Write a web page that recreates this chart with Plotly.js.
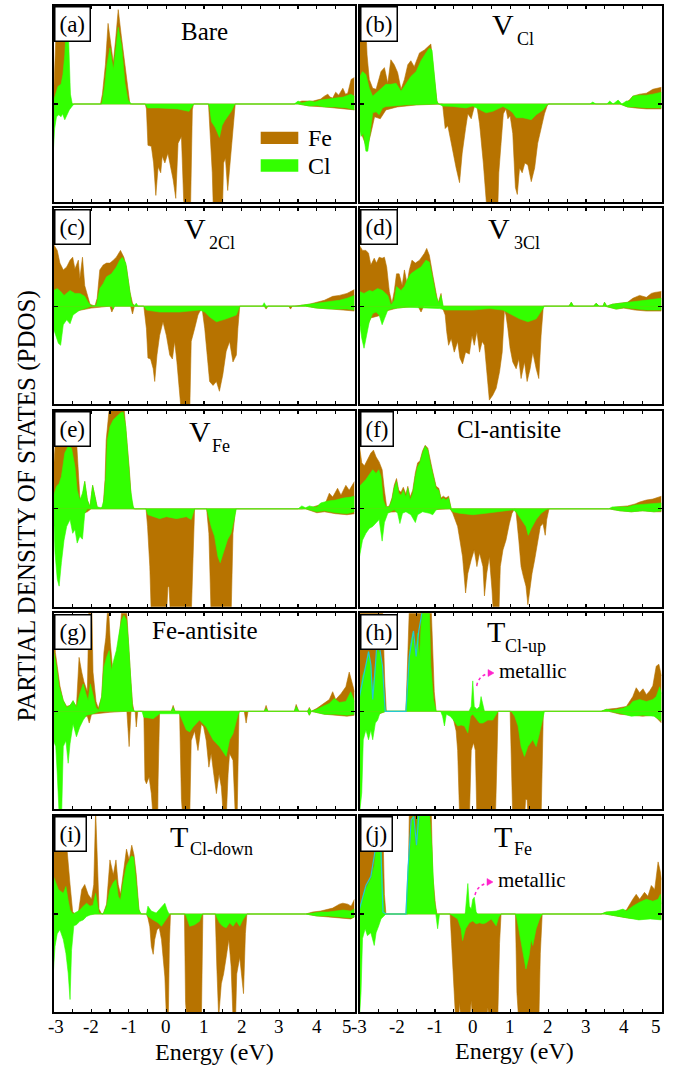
<!DOCTYPE html>
<html><head><meta charset="utf-8">
<script src="https://cdn.plot.ly/plotly-3.0.1.min.js"></script>
<style>html,body{margin:0;padding:0;background:#fff}#chart{width:678px;height:1066px}</style>
</head><body><div id="chart"></div>
<script>
// ---- data: [energy (eV), PDOS] pairs; spin-up positive, spin-down negative ----
const A_feUp=[[-3,0.5],[-2.95,6],[-2.9,10.5],[-2.8,10.5],[-2.7,9],[-2.64,7],[-2.6,4],[-2.56,0.5],[-2.52,0],[-1.75,0],[-1.7,1],[-1.62,4],[-1.55,8.2],[-1.48,6],[-1.41,4.2],[-1.35,6.5],[-1.28,9.6],[-1.2,7],[-1.1,3.8],[-1.03,1.5],[-0.97,0],[3.4,0],[3.6,0.3],[3.9,0.3],[4.1,0.5],[4.2,0.8],[4.29,1.0],[4.35,0.7],[4.42,0.6],[4.5,1.2],[4.58,0.9],[4.69,1.6],[4.76,1.0],[4.82,1.1],[4.91,2.5],[5,2.7]];
const A_clUp=[[-3,0.3],[-2.95,1.0],[-2.88,1.8],[-2.8,2.0],[-2.75,3.0],[-2.7,5],[-2.66,8],[-2.61,8],[-2.58,4],[-2.55,1],[-2.5,0],[-1.72,0],[-1.64,1.8],[-1.58,4],[-1.5,5.7],[-1.41,3.5],[-1.33,6],[-1.28,7.8],[-1.19,5.9],[-1.1,2.1],[-1.02,0.4],[-0.93,0],[3.4,0],[3.5,0.3],[3.6,0.1],[3.8,0.3],[3.95,0.2],[4.1,0.4],[4.3,0.5],[4.5,0.6],[4.7,0.7],[4.9,1.0],[5,0.8]];
const A_feDn=[[-3,-1],[-2.9,-0.6],[-2.6,-0.3],[-2.5,0],[-0.56,0],[-0.53,-0.5],[-0.49,-4.2],[-0.40,-4.3],[-0.34,-6.0],[-0.28,-9.3],[-0.22,-6.4],[-0.15,-7.0],[-0.11,-5.3],[-0.04,-6.0],[0.04,-5.0],[0.11,-6.3],[0.18,-7.7],[0.25,-9.6],[0.31,-4.0],[0.40,-3.3],[0.46,-9.8],[0.51,-11],[0.64,-11],[0.69,-0.6],[0.72,0],[1.12,0],[1.17,-3],[1.22,-7],[1.25,-11],[1.49,-11],[1.52,-6],[1.57,-5.5],[1.63,-8.8],[1.68,-6.5],[1.74,-4],[1.79,-1.3],[1.83,0],[3.5,0],[3.8,-0.2],[4.2,-0.3],[4.5,-0.4],[4.8,-0.5],[5,-0.6]];
const A_clDn=[[-3,-4.5],[-2.97,-2.5],[-2.92,-1.3],[-2.86,-1.1],[-2.8,-1.3],[-2.76,-1.0],[-2.7,-1.6],[-2.65,-1.1],[-2.58,-0.6],[-2.5,-0.2],[-2.45,0],[-0.56,0],[-0.5,-0.4],[-0.2,-0.4],[0.3,-0.5],[0.6,-0.75],[0.7,-0.2],[0.73,0],[1.12,0],[1.15,-0.4],[1.2,-1.8],[1.3,-2.4],[1.41,-3.4],[1.48,-2.2],[1.55,-1.7],[1.64,-1.2],[1.73,-0.7],[1.82,0],[3.5,0],[3.8,-0.2],[4.0,-0.15],[4.2,-0.3],[4.5,-0.3],[4.8,-0.4],[5,-0.6]];

const B_feUp=[[-3,10.5],[-2.86,10.5],[-2.8,5],[-2.74,2.5],[-2.65,1.6],[-2.56,1.5],[-2.43,3.3],[-2.34,3.7],[-2.25,2.1],[-2.17,4.5],[-2.08,4.0],[-1.99,3.2],[-1.9,1.5],[-1.81,2.5],[-1.72,4.0],[-1.64,4.4],[-1.55,3.8],[-1.41,5.2],[-1.28,5.5],[-1.17,5.9],[-1.11,6.1],[-1.02,2.8],[-0.95,0.3],[-0.91,0],[4.0,0],[4.15,0.4],[4.24,0.8],[4.42,1.0],[4.6,1.1],[4.77,1.5],[4.9,1.6],[5,1.7]];
const B_clUp=[[-3,2.7],[-2.92,3.3],[-2.83,3.0],[-2.74,1.6],[-2.65,0.8],[-2.56,1.1],[-2.43,1.5],[-2.3,2.0],[-2.17,2.0],[-2.03,2.1],[-1.9,1.3],[-1.77,2.1],[-1.64,2.8],[-1.5,3.3],[-1.37,4.4],[-1.24,5.2],[-1.15,5.7],[-1.08,5.5],[-1.02,2.8],[-0.95,0.3],[-0.91,0],[3.1,0],[3.18,0.2],[3.26,0],[3.55,0],[3.63,0.3],[3.72,0],[3.85,0.4],[3.95,0],[4.07,0.3],[4.15,0.3],[4.24,0.8],[4.42,0.9],[4.6,0.9],[4.77,1.0],[5,1.2]];
const B_feDn=[[-3,-2.5],[-2.9,-3.5],[-2.8,-4.5],[-2.7,-3],[-2.6,-1.3],[-2.45,-1.5],[-2.3,-0.6],[-2.0,-0.3],[-1.5,-0.1],[-0.8,0],[-0.73,-2.5],[-0.66,-2.2],[-0.57,-4],[-0.44,-6.5],[-0.35,-8],[-0.28,-5],[-0.19,-2.5],[-0.13,-1],[-0.04,-1.5],[0.04,-0.3],[0.11,-0.2],[0.18,-2],[0.28,-6],[0.35,-10],[0.38,-11],[0.66,-11],[0.69,-7],[0.75,-4],[0.81,-1],[0.88,-0.5],[0.93,-1.5],[0.99,-1.2],[1.06,-3],[1.13,-8.5],[1.18,-9.2],[1.24,-6.5],[1.31,-7],[1.38,-6],[1.46,-6.2],[1.55,-7.9],[1.64,-6.5],[1.72,-4],[1.81,-2.5],[1.9,-1.0],[1.97,-0.2],[2.01,0],[3.9,0],[4.1,-0.3],[4.3,-0.4],[4.6,-0.5],[5,-0.5]];
const B_clDn=[[-3,-2.3],[-2.96,-3.3],[-2.9,-3.0],[-2.83,-4.8],[-2.78,-4.8],[-2.72,-3.0],[-2.65,-0.9],[-2.56,-0.8],[-2.48,-1.1],[-2.39,-0.4],[-2.3,-0.25],[-2.1,-0.2],[-1.8,-0.1],[-0.9,0],[-0.8,-0.2],[-0.53,-0.25],[-0.18,-0.4],[0,-0.2],[0.18,-0.6],[0.35,-0.9],[0.53,-0.75],[0.8,-0.25],[0.97,-0.6],[1.06,-0.9],[1.15,-1.4],[1.33,-1.4],[1.55,-1.6],[1.68,-1.1],[1.86,-0.6],[1.99,0],[3.9,0],[4.1,-0.3],[4.3,-0.3],[4.6,-0.4],[5,-0.4]];

const C_feUp=[[-3,6.5],[-2.98,6.2],[-2.9,5.7],[-2.83,4.4],[-2.74,3.7],[-2.65,4.0],[-2.56,4.7],[-2.49,5.0],[-2.43,3.8],[-2.34,4.7],[-2.30,2.8],[-2.23,5.0],[-2.17,2.1],[-2.10,1.1],[-2.03,0.2],[-1.9,0],[-1.84,0.8],[-1.77,3.7],[-1.68,4.2],[-1.59,4.4],[-1.5,4.4],[-1.41,4.7],[-1.33,5.0],[-1.22,5.7],[-1.13,5.0],[-1.06,4.0],[-0.97,1.5],[-0.9,0.3],[-0.84,0],[3.4,0],[3.8,0.2],[4.0,0.4],[4.2,0.6],[4.42,1.0],[4.6,1.1],[4.8,1.3],[5,1.7]];
const C_clUp=[[-3,1.6],[-2.9,1.8],[-2.81,1.5],[-2.72,1.1],[-2.56,1.6],[-2.43,1.3],[-2.3,1.3],[-2.17,1.0],[-2.08,0.4],[-1.99,0],[-1.86,0.1],[-1.77,1.8],[-1.68,2.3],[-1.59,3.0],[-1.46,3.3],[-1.33,4.0],[-1.24,4.7],[-1.17,5.0],[-1.08,4.4],[-0.99,2.1],[-0.93,0.4],[-0.87,0],[-0.8,0.3],[-0.75,0],[2.55,0],[2.6,0.35],[2.65,0],[3.5,0],[3.6,0.1],[4.0,0.3],[4.37,0.5],[4.6,0.6],[4.8,0.8],[5,1.1]];
const C_feDn=[[-3,-1.5],[-2.8,-2.0],[-2.6,-1.0],[-2.4,-0.5],[-2.0,-0.2],[-1.5,0],[-1.45,-0.6],[-1.38,0],[-0.95,0],[-0.9,-0.8],[-0.85,0],[-0.6,0],[-0.53,-2.3],[-0.49,-5.3],[-0.42,-5.4],[-0.35,-6.4],[-0.31,-7.7],[-0.25,-5.0],[-0.18,-3.0],[-0.09,-1.6],[0,-3.0],[0.09,-5.0],[0.16,-5.4],[0.22,-3.6],[0.28,-5.7],[0.35,-9.1],[0.4,-11],[0.62,-11],[0.66,-3.6],[0.75,-2.3],[0.84,-0.9],[0.88,-0.6],[0.95,-0.25],[1.02,-2.3],[1.08,-5.0],[1.15,-7.7],[1.24,-8.1],[1.33,-7.7],[1.41,-8.7],[1.50,-7.0],[1.59,-4.6],[1.68,-3.6],[1.77,-5.7],[1.86,-5.0],[1.90,-2.3],[1.95,0],[2.6,0],[2.65,-0.3],[2.7,0],[3.25,0],[3.3,-0.3],[3.35,0],[3.7,0],[4,-0.2],[4.4,-0.3],[4.8,-0.4],[5,-0.5]];
const C_clDn=[[-3,-2.3],[-2.94,-3.0],[-2.87,-3.8],[-2.81,-4.0],[-2.74,-1.9],[-2.65,-1.4],[-2.56,-1.8],[-2.48,-0.9],[-2.3,-0.4],[-2.12,-0.2],[-2.0,0],[-1.45,0],[-1.41,-0.3],[-1.38,0],[-0.6,0],[-0.53,-0.4],[-0.18,-0.6],[0.35,-0.6],[0.88,-0.4],[1.02,-0.6],[1.15,-1.1],[1.33,-1.6],[1.59,-1.3],[1.86,-0.9],[1.95,0],[2.6,0],[2.65,-0.2],[2.7,0],[3.7,0],[4,-0.2],[4.4,-0.3],[4.8,-0.3],[5,-0.4]];

const D_feUp=[[-3,6.2],[-2.92,5.7],[-2.83,5.7],[-2.76,5.4],[-2.7,4.2],[-2.61,4.9],[-2.55,4.4],[-2.48,5.0],[-2.4,4.9],[-2.34,5.0],[-2.28,4.0],[-2.21,1.5],[-2.14,0.3],[-2.08,1.5],[-2.02,3.3],[-1.95,3.3],[-1.87,2.1],[-1.81,3.7],[-1.74,2.3],[-1.68,3.7],[-1.61,4.7],[-1.52,4.4],[-1.41,4.7],[-1.28,5.4],[-1.22,5.9],[-1.15,5.2],[-1.06,3.2],[-0.97,1.1],[-0.92,0.3],[-0.84,1.3],[-0.8,0],[2.55,0],[2.61,0.4],[2.67,0],[3.2,0],[3.27,0.3],[3.35,0],[3.45,0],[3.49,0.4],[3.55,0],[3.7,0.2],[3.9,0.3],[4.1,0.4],[4.24,0.8],[4.42,1.1],[4.6,0.9],[4.73,1.3],[4.82,1.4],[5,1.5]];
const D_clUp=[[-3,1.5],[-2.88,1.3],[-2.74,1.6],[-2.65,1.5],[-2.52,1.8],[-2.39,1.6],[-2.25,1.1],[-2.17,0.1],[-2.08,0.6],[-2.02,2.0],[-1.9,1.6],[-1.81,2.0],[-1.72,2.8],[-1.64,3.3],[-1.5,3.7],[-1.37,4.0],[-1.24,4.7],[-1.15,4.5],[-1.06,2.8],[-0.97,1.0],[-0.9,0.3],[-0.84,1.1],[-0.78,0],[2.55,0],[2.61,0.4],[2.67,0],[3.2,0],[3.27,0.3],[3.35,0],[3.45,0],[3.49,0.4],[3.55,0],[3.7,0.2],[3.9,0.3],[4.24,0.4],[4.6,0.6],[5,0.8]];
const D_feDn=[[-3,-1.5],[-2.85,-2.5],[-2.7,-1.2],[-2.5,-1.0],[-2.3,-0.5],[-2.0,-0.2],[-1.45,0],[-1.37,-0.6],[-1.3,0],[-0.84,0],[-0.78,-0.4],[-0.73,-0.9],[-0.69,-2.6],[-0.64,-4.0],[-0.57,-3.3],[-0.49,-4.7],[-0.40,-3.6],[-0.34,-5.3],[-0.27,-5.9],[-0.19,-4.7],[-0.09,-4.9],[-0.02,-3.0],[0.04,-4.0],[0.11,-2.6],[0.18,-4.7],[0.25,-3.6],[0.31,-4.0],[0.37,-6.4],[0.44,-9.6],[0.53,-9.1],[0.62,-8.4],[0.71,-6.7],[0.78,-4.7],[0.84,-0.4],[0.88,-0.9],[0.93,-2.3],[0.99,-4.3],[1.06,-5.7],[1.15,-6.4],[1.22,-5.4],[1.28,-7.4],[1.37,-5.7],[1.44,-7.7],[1.52,-6.4],[1.59,-4.7],[1.68,-6.4],[1.75,-7.4],[1.81,-3.0],[1.87,0],[3.5,0],[3.8,-0.3],[4.0,-0.2],[4.3,-0.4],[4.6,-0.5],[5,-0.5]];
const D_clDn=[[-3,-1.6],[-2.94,-3.3],[-2.88,-4.3],[-2.81,-3.0],[-2.74,-1.6],[-2.65,-0.75],[-2.56,-0.6],[-2.48,-0.9],[-2.4,-1.9],[-2.34,-1.3],[-2.25,-0.4],[-2.12,-0.25],[-1.77,-0.1],[-0.88,-0.25],[-0.71,-0.4],[0,-0.4],[0.44,-0.25],[0.8,-0.4],[0.97,-0.75],[1.24,-1.3],[1.46,-1.6],[1.68,-1.3],[1.86,-0.25],[1.9,0],[3.5,0],[3.8,-0.3],[4.0,-0.15],[4.3,-0.3],[4.6,-0.4],[5,-0.4]];

const E_feUp=[[-3,4],[-2.92,9],[-2.88,11],[-2.45,11],[-2.39,7],[-2.34,3],[-2.3,1.2],[-2.25,0.6],[-2.17,2.8],[-2.1,0.9],[-2.03,0.2],[-1.96,2.4],[-1.9,1.1],[-1.84,0.2],[-1.75,0],[-1.68,0.3],[-1.63,3.0],[-1.6,7.0],[-1.53,9.8],[-1.47,11],[-1.14,11],[-1.06,7.7],[-0.99,4.3],[-0.93,0.9],[-0.87,0],[3.6,0],[3.9,0.2],[4.15,0.5],[4.24,0.7],[4.33,1.6],[4.42,1.2],[4.55,2.1],[4.64,1.4],[4.77,2.4],[4.86,1.9],[5,2.8]];
const E_clUp=[[-3,1.3],[-2.92,2.3],[-2.85,2.6],[-2.79,3.3],[-2.7,5.7],[-2.61,6.4],[-2.52,6.2],[-2.43,4.3],[-2.37,1.9],[-2.30,0.9],[-2.23,1.6],[-2.17,2.8],[-2.10,0.9],[-2.03,0.2],[-1.96,2.4],[-1.90,1.1],[-1.84,0.2],[-1.72,0.1],[-1.66,0.9],[-1.61,3.3],[-1.57,7.0],[-1.50,8.4],[-1.41,9.1],[-1.33,9.4],[-1.22,9.8],[-1.15,9.9],[-1.08,8.4],[-1.02,5.3],[-0.95,1.9],[-0.88,0.2],[-0.84,0],[3.5,0],[3.6,0.3],[3.7,0.1],[3.8,0.3],[3.9,0.2],[4.0,0.2],[4.1,0.6],[4.3,0.8],[4.5,0.9],[4.7,1.1],[4.9,1.2],[5,1.3]];
const E_feDn=[[-3,-0.5],[-2.8,-0.8],[-2.6,-0.5],[-2.3,-0.6],[-2.1,-0.3],[-2.0,0],[-0.54,0],[-0.5,-1.8],[-0.44,-5.9],[-0.40,-11],[0.0,-11],[0.04,-8],[0.07,-7.9],[0.11,-11],[0.66,-11],[0.71,-5],[0.75,0],[1.07,0],[1.13,-2.5],[1.19,-11],[1.72,-11],[1.77,-2.5],[1.84,0],[3.7,0],[4.0,-0.4],[4.2,-0.3],[4.5,-0.5],[4.8,-0.6],[5,-0.5]];
const E_clDn=[[-3,-0.2],[-2.96,-4.5],[-2.9,-7.2],[-2.85,-7.9],[-2.79,-5.5],[-2.72,-3.2],[-2.65,-1.8],[-2.56,-1.1],[-2.49,-2.5],[-2.43,-2.1],[-2.37,-3.5],[-2.30,-2.8],[-2.23,-3.1],[-2.17,-0.5],[-2.10,0],[-0.54,0],[-0.49,-0.6],[-0.35,-0.8],[-0.18,-1.0],[0,-0.8],[0.27,-1.0],[0.53,-0.8],[0.66,-1.1],[0.75,0],[1.07,0],[1.1,-0.4],[1.19,-1.8],[1.28,-2.8],[1.37,-4.9],[1.43,-5.5],[1.52,-4.5],[1.63,-3.1],[1.72,-2.5],[1.81,-0.8],[1.86,0],[3.7,0],[4.0,-0.3],[4.2,-0.2],[4.5,-0.4],[4.8,-0.5],[5,-0.3]];

const F_feUp=[[-3,6.4],[-2.94,4.7],[-2.87,4.4],[-2.79,5.0],[-2.7,5.7],[-2.63,6.0],[-2.56,5.3],[-2.48,4.8],[-2.40,4.0],[-2.34,1.9],[-2.28,0.2],[-2.21,0.3],[-2.14,1.1],[-2.08,2.4],[-2.02,3.1],[-1.96,1.9],[-1.9,1.7],[-1.84,2.2],[-1.77,1.5],[-1.72,2.3],[-1.66,1.2],[-1.59,1.9],[-1.52,3.7],[-1.46,4.7],[-1.40,4.9],[-1.33,5.9],[-1.26,6.5],[-1.19,6.2],[-1.13,4.9],[-1.06,3.8],[-0.97,2.3],[-0.90,2.1],[-0.84,1.1],[-0.78,1.3],[-0.71,1.1],[-0.64,1.3],[-0.57,0],[3.6,0],[3.8,0.2],[4.1,0.3],[4.3,0.5],[4.42,0.7],[4.6,0.9],[4.77,1.0],[5,1.3]];
const F_clUp=[[-3,2.3],[-2.92,2.6],[-2.83,3.0],[-2.74,3.5],[-2.65,4.0],[-2.56,3.6],[-2.49,4.0],[-2.43,3.3],[-2.37,0.9],[-2.30,0.2],[-2.21,0.2],[-2.14,0.9],[-2.08,2.1],[-2.02,2.8],[-1.96,1.6],[-1.90,1.4],[-1.84,1.9],[-1.77,1.2],[-1.72,2.1],[-1.66,0.9],[-1.59,1.6],[-1.52,3.3],[-1.46,4.3],[-1.40,4.7],[-1.33,5.7],[-1.26,6.4],[-1.19,6.0],[-1.13,4.7],[-1.06,3.6],[-0.97,2.1],[-0.90,1.9],[-0.84,0.9],[-0.78,1.1],[-0.71,0.9],[-0.64,1.1],[-0.57,0],[3.6,0],[3.7,0.2],[3.9,0.2],[4.1,0.2],[4.3,0.4],[4.6,0.5],[5,0.6]];
const F_feDn=[[-3,-1.5],[-2.8,-0.5],[-2.5,-0.4],[-2.0,-0.3],[-1.5,-0.2],[-1.0,-0.1],[-0.6,0],[-0.53,-0.45],[-0.46,-1.3],[-0.40,-1.8],[-0.34,-3.2],[-0.27,-4.9],[-0.19,-8.6],[-0.13,-6.6],[-0.04,-5.2],[0.04,-4.2],[0.11,-5.9],[0.18,-4.5],[0.27,-5.9],[0.31,-8.9],[0.37,-6.6],[0.44,-4.9],[0.51,-8.3],[0.55,-11],[0.69,-11],[0.73,-5.9],[0.80,-4.2],[0.88,-3.2],[0.97,-1.5],[1.04,-0.45],[1.11,0],[1.15,-0.45],[1.22,-3.2],[1.28,-5.9],[1.34,-6.9],[1.41,-7.9],[1.46,-9.8],[1.50,-8.6],[1.57,-6.6],[1.64,-5.2],[1.72,-3.2],[1.79,-1.8],[1.86,-1.5],[1.92,-2.7],[1.96,-1.1],[2.02,0],[3.6,0],[3.9,-0.2],[4.2,-0.3],[4.5,-0.2],[4.8,-0.3],[5,-0.3]];
const F_clDn=[[-3,-4.9],[-2.92,-3.2],[-2.83,-2.5],[-2.74,-2.0],[-2.65,-1.8],[-2.56,-1.4],[-2.48,-1.1],[-2.40,-3.3],[-2.34,-1.4],[-2.25,-0.45],[-2.17,-0.3],[-2.08,-0.1],[-1.99,-0.45],[-1.93,-1.5],[-1.86,-0.45],[-1.77,-0.3],[-1.64,-0.6],[-1.52,-1.4],[-1.46,-0.6],[-1.33,-0.3],[-1.15,-0.45],[-1.06,-0.6],[-0.97,-0.1],[-0.88,0],[-0.6,0],[-0.53,-0.3],[-0.35,-0.45],[0,-0.6],[0.35,-0.45],[0.71,-0.3],[1.06,-0.1],[1.15,-0.3],[1.28,-1.1],[1.41,-1.8],[1.47,-2.7],[1.55,-2.0],[1.68,-1.1],[1.81,-0.45],[1.94,-0.1],[2.0,0],[3.6,0],[3.9,-0.2],[4.2,-0.3],[4.5,-0.2],[4.8,-0.3],[5,-0.2]];

const G_feUp=[[-3,10],[-2.95,6],[-2.9,4.6],[-2.83,2.6],[-2.74,1.1],[-2.65,0.5],[-2.56,0.6],[-2.48,1.0],[-2.39,0.5],[-2.32,5.5],[-2.25,4.0],[-2.19,3.0],[-2.10,2.0],[-2.06,10.5],[-1.98,10.5],[-1.95,4],[-1.87,1.0],[-1.81,0.3],[-1.72,1.5],[-1.66,6.0],[-1.61,7.5],[-1.56,10.5],[-1.53,10],[-1.49,7.0],[-1.41,3.5],[-1.34,5.5],[-1.28,6.5],[-1.22,8.5],[-1.18,10.5],[-1.06,10.5],[-1.01,7],[-0.95,3.5],[-0.90,0.8],[-0.86,0],[0.13,0],[0.18,0.6],[0.23,0],[2.6,0],[2.65,0.6],[2.7,0],[3.4,0],[3.45,0.7],[3.52,0],[3.75,0],[3.8,0.4],[3.85,0],[4.0,0.3],[4.2,0.8],[4.33,1.2],[4.42,2.0],[4.5,1.2],[4.64,1.8],[4.77,2.5],[4.86,4.0],[4.95,2.5],[5,2.0]];
const G_clUp=[[-3,6.2],[-2.92,4.5],[-2.85,2.5],[-2.74,1.1],[-2.65,0.4],[-2.56,0.6],[-2.48,1.1],[-2.39,0.4],[-2.30,1.8],[-2.21,2.8],[-2.14,1.8],[-2.08,1.1],[-2.02,2.8],[-1.96,1.8],[-1.87,0.4],[-1.80,0.1],[-1.72,1.5],[-1.66,4.5],[-1.59,5.5],[-1.52,6.2],[-1.46,4.2],[-1.40,5.2],[-1.33,6.2],[-1.26,7.9],[-1.19,9.3],[-1.13,9.8],[-1.06,9.3],[-1.01,7.2],[-0.95,2.8],[-0.90,0.4],[-0.86,0],[0.13,0],[0.18,0.4],[0.23,0],[2.6,0],[2.65,0.3],[2.7,0],[3.4,0],[3.45,0.5],[3.52,0],[3.75,0],[3.8,0.3],[3.85,0],[4.0,0.2],[4.15,0.5],[4.33,0.8],[4.46,1.3],[4.6,0.9],[4.77,1.0],[4.9,2.0],[5,1.0]];
const G_feDn=[[-3,-1.5],[-2.8,-1.0],[-2.5,-0.6],[-2.1,-0.5],[-2.05,-1.2],[-1.99,-0.3],[-1.5,-0.1],[-1.05,0],[-0.99,-3.6],[-0.94,0],[-0.83,0],[-0.80,-1.6],[-0.76,0],[-0.6,0],[-0.57,-7.0],[-0.53,-7.4],[-0.46,-6.7],[-0.40,-8.4],[-0.35,-11],[-0.23,-11],[-0.22,-7],[-0.18,0],[0.35,0],[0.4,-9],[0.44,-11],[0.62,-11],[0.66,-3],[0.75,-2],[0.84,-4],[0.93,-1.3],[0.99,-1.6],[1.06,-3],[1.13,-5.7],[1.19,-4.3],[1.26,-6.4],[1.33,-8.4],[1.40,-6.4],[1.46,-7.7],[1.52,-11],[1.59,-11],[1.64,-6.4],[1.68,-4.3],[1.77,-5.0],[1.83,-10.5],[1.88,-11],[1.93,0],[2.07,0],[2.12,-1.2],[2.17,0],[3.75,0],[3.8,-0.4],[3.85,0],[4.2,-0.3],[4.5,-0.4],[4.8,-0.5],[5,-0.4]];
const G_clDn=[[-3,-3.0],[-2.94,-3.6],[-2.9,-6.4],[-2.85,-10.5],[-2.78,-10],[-2.74,-3.6],[-2.67,-3.0],[-2.61,-5.3],[-2.56,-3.3],[-2.48,-1.3],[-2.39,-2.6],[-2.30,-1.6],[-2.21,-0.9],[-2.12,-0.4],[-1.95,-0.25],[-1.77,0],[-0.65,0],[-0.6,-0.6],[-0.35,-0.75],[-0.18,-0.25],[0.35,-0.25],[0.53,-1.9],[0.62,-2.1],[0.71,-1.6],[0.88,-0.9],[1.06,-1.6],[1.24,-2.9],[1.41,-3.6],[1.59,-4.6],[1.68,-2.9],[1.77,-2.3],[1.90,-0.4],[1.95,0],[3.75,0],[3.8,-0.4],[3.85,0],[4.2,-0.3],[4.5,-0.3],[4.8,-0.4],[5,-0.3]];

const H_feUp=[[-3,10.5],[-2.39,10.5],[-2.33,3],[-2.29,0],[-1.77,0],[-1.72,5],[-1.68,10.5],[-1.1,10.5],[-1.02,2],[-0.97,0],[-0.05,0],[0,0.6],[0.05,0],[3.4,0],[3.54,0.2],[3.8,0.3],[4.07,0.5],[4.24,1.5],[4.33,2.4],[4.42,1.9],[4.51,2.3],[4.6,1.7],[4.69,2.1],[4.77,2.6],[4.86,4.6],[4.93,4.8],[5,3.6]];
const H_clUp=[[-3,1.5],[-2.92,3.6],[-2.83,4.6],[-2.76,6.1],[-2.70,4.6],[-2.65,1.8],[-2.58,4.6],[-2.52,6.3],[-2.46,6.0],[-2.40,4.6],[-2.34,0.9],[-2.30,0],[-1.77,0],[-1.72,2.9],[-1.66,6.6],[-1.59,8.0],[-1.52,5.6],[-1.46,8.0],[-1.41,5.5],[-1.37,8.7],[-1.33,10.5],[-1.15,10.5],[-1.11,4.6],[-1.04,1.2],[-0.97,0],[-0.1,0],[-0.04,0.5],[0,3.1],[0.04,0.5],[0.11,0.2],[0.18,0.5],[0.22,1.5],[0.27,0.5],[0.31,0],[3.4,0],[3.54,0.2],[3.7,0.1],[3.98,0.3],[4.15,0.6],[4.24,1.0],[4.42,1.2],[4.6,1.0],[4.77,1.2],[4.86,1.5],[4.95,2.5],[5,1.8]];
const H_feDn=[[-3,-0.5],[-2.5,-0.3],[-2.3,0],[-0.57,0],[-0.53,-0.5],[-0.44,-2.0],[-0.40,-4],[-0.35,-10.5],[-0.09,-11],[-0.04,-4],[0.02,-3.2],[0.07,-4],[0.11,-11],[0.6,-11],[0.64,-5],[0.67,0],[0.99,0],[1.03,-6],[1.06,-11],[1.37,-11],[1.4,-9],[1.44,-9],[1.47,-11],[1.81,-11],[1.84,-5],[1.87,0],[3.6,0],[3.9,-0.3],[4.2,-0.4],[4.5,-0.5],[4.8,-0.4],[5,-1.2]];
const H_clDn=[[-3,-10.5],[-2.94,-8.3],[-2.9,-2.9],[-2.83,-1.9],[-2.76,-2.9],[-2.7,-1.9],[-2.65,-2.9],[-2.58,-1.2],[-2.52,-0.9],[-2.46,-0.2],[-2.3,0],[-0.85,0],[-0.8,-0.5],[-0.75,-1.5],[-0.7,-0.3],[-0.6,-0.5],[-0.53,-0.8],[-0.40,-1.5],[-0.31,-1.4],[-0.22,-1.5],[-0.13,-2.2],[-0.06,-0.5],[0,-0.3],[0.09,-0.8],[0.18,-1.2],[0.27,-1.2],[0.4,-0.9],[0.53,-0.9],[0.62,-0.3],[0.67,0],[1.02,0],[1.11,-0.5],[1.2,-1.5],[1.28,-3.6],[1.37,-4.6],[1.46,-3.6],[1.59,-2.9],[1.68,-3.6],[1.77,-2.2],[1.86,-0.8],[1.9,0],[3.6,0],[3.9,-0.2],[4.2,-0.5],[4.5,-0.4],[4.8,-0.5],[5,-1.0]];
const H_cyan=[[-3,1.5],[-2.87,3.8],[-2.76,6.1],[-2.7,4.8],[-2.65,1.2],[-2.58,4.6],[-2.52,8.0],[-2.46,6.3],[-2.39,4.6],[-2.32,0],[-1.77,0],[-1.68,5.6],[-1.57,8.2],[-1.5,5.6],[-1.43,8.2],[-1.37,9.5],[-1.33,10.5]];

const I_feUp=[[-3,8],[-2.87,8],[-2.78,7],[-2.65,7],[-2.56,3],[-2.49,0.2],[-2.42,0],[-2.34,0.1],[-2.25,2.5],[-2.17,3.0],[-2.08,2.0],[-1.99,1.5],[-1.93,3],[-1.88,10.5],[-1.83,5],[-1.79,0.5],[-1.72,0],[-1.68,0],[-1.59,1.0],[-1.50,5.5],[-1.41,4.0],[-1.34,5.5],[-1.28,3.0],[-1.22,2.0],[-1.15,4.0],[-1.06,6.6],[-0.99,5.5],[-0.92,7.0],[-0.86,6.0],[-0.80,4.0],[-0.73,0.5],[-0.69,0],[3.7,0],[3.89,0.2],[4.1,0.3],[4.2,0.4],[4.42,0.6],[4.6,1.0],[4.69,1.1],[4.82,1.0],[4.91,0.8],[5,1.5]];
const I_clUp=[[-3,3.8],[-2.94,3.2],[-2.87,2.5],[-2.74,2.1],[-2.67,2.8],[-2.61,1.4],[-2.56,0.4],[-2.48,0],[-2.3,0.4],[-2.21,0.8],[-2.12,1.1],[-2.03,0.8],[-1.95,0.9],[-1.88,2.1],[-1.84,1.1],[-1.79,0.1],[-1.68,0],[-1.59,0.8],[-1.50,2.5],[-1.41,3.2],[-1.34,3.5],[-1.28,1.8],[-1.22,1.4],[-1.15,3.2],[-1.06,4.9],[-0.99,5.5],[-0.93,5.9],[-0.87,5.8],[-0.80,3.2],[-0.73,0.4],[-0.66,0],[-0.53,0],[-0.49,0.8],[-0.40,0.3],[-0.27,0.1],[-0.09,0.8],[-0.04,1.1],[0.02,0.4],[0.07,0],[3.7,0],[3.9,0.1],[4.1,0.2],[4.3,0.2],[4.5,0.3],[4.7,0.4],[4.9,0.3],[5,0.5]];
const I_feDn=[[-3,-0.5],[-2.6,-0.3],[-2.4,0],[-0.53,0],[-0.49,-0.4],[-0.44,-1.3],[-0.40,-3.3],[-0.35,-4.1],[-0.31,-2.6],[-0.25,-1.6],[-0.19,-1.4],[-0.13,-2.6],[-0.09,-4.3],[-0.04,-6.4],[0,-10.5],[0.05,-11],[0.08,-3],[0.11,0],[0.48,0],[0.51,-9],[0.55,-11],[0.93,-11],[0.97,0],[1.30,0],[1.34,-5.3],[1.39,-10.5],[1.46,-7.1],[1.52,-6.1],[1.59,-4.4],[1.66,-2.6],[1.72,-5.3],[1.77,-10.5],[1.84,-10.5],[1.87,-6.1],[1.95,-4.4],[2.02,-7.4],[2.05,-8.1],[2.10,-2],[2.14,0],[3.7,0],[4.0,-0.2],[4.3,-0.3],[4.6,-0.4],[4.9,-0.5],[5,-0.3]];
const I_clDn=[[-3,-5.7],[-2.96,-3.3],[-2.9,-2.0],[-2.83,-1.6],[-2.74,-2.6],[-2.67,-4.0],[-2.61,-6.0],[-2.56,-8.7],[-2.52,-3.7],[-2.46,-1.2],[-2.39,-1.1],[-2.3,-0.75],[-2.21,-0.6],[-2.12,-0.25],[-2.03,-0.1],[-1.9,0],[-0.53,0],[-0.49,-0.25],[-0.35,-0.6],[-0.22,-0.9],[-0.13,-1.25],[-0.04,-0.75],[0.04,-0.25],[0.09,0],[0.5,0],[0.53,-0.25],[0.62,-1.25],[0.75,-1.1],[0.88,-0.75],[0.95,0],[1.31,0],[1.33,-0.25],[1.41,-0.9],[1.5,-1.25],[1.59,-1.4],[1.68,-0.9],[1.77,-1.25],[1.86,-0.75],[1.95,-1.25],[2.03,-0.6],[2.12,-0.1],[2.15,0],[3.7,0],[4.0,-0.2],[4.3,-0.2],[4.6,-0.3],[4.9,-0.4],[5,-0.3]];

const J_feUp=[[-3,10.5],[-2.39,10.5],[-2.34,2],[-2.30,0],[-1.72,0],[-1.68,10.5],[-1.1,10.5],[-1.06,4],[-0.99,1],[-0.95,0],[-0.2,0],[-0.13,0.5],[0,0.3],[0.1,0],[3.4,0],[3.54,0.2],[3.8,0.2],[4.07,0.4],[4.24,1.5],[4.33,2.0],[4.42,1.5],[4.55,2.2],[4.64,1.8],[4.73,2.9],[4.82,2.5],[4.91,5.3],[4.97,4.3],[5,3.5]];
const J_clUp=[[-3,0.5],[-2.94,1.5],[-2.88,2.2],[-2.79,2.9],[-2.7,3.6],[-2.61,4.9],[-2.55,7.0],[-2.49,8.3],[-2.43,7.0],[-2.39,3.2],[-2.34,0.2],[-2.3,0],[-1.77,0],[-1.71,4.9],[-1.66,6.6],[-1.63,9.0],[-1.57,10.5],[-1.52,6.6],[-1.46,10.2],[-1.41,10.5],[-1.15,10.5],[-1.08,6.6],[-1.02,1.5],[-0.96,0],[-0.2,0],[-0.13,3.1],[-0.09,0.8],[-0.04,0.5],[0,1.5],[0.04,1.7],[0.09,0.2],[0.13,0],[3.4,0],[3.54,0.2],[3.8,0.3],[3.98,0.5],[4.07,0.3],[4.24,0.8],[4.42,1.2],[4.6,1.5],[4.77,1.3],[4.91,1.5],[4.97,2.0],[5,1.0]];
const J_feDn=[[-3,-0.5],[-2.5,-0.3],[-2.3,0],[-0.6,0],[-0.56,-3],[-0.5,-8],[-0.45,-11],[-0.38,-11],[-0.35,-9],[-0.31,-11],[-0.09,-11],[-0.04,-8.8],[0,-11],[0.35,-11],[0.4,-9.5],[0.44,-11],[0.66,-11],[0.71,-3],[0.75,0],[1.13,0],[1.17,-8],[1.22,-11],[1.75,-11],[1.79,-4],[1.84,0],[3.5,0],[3.8,-0.2],[4.1,-0.4],[4.4,-0.5],[4.7,-0.4],[5,-0.5]];
const J_clDn=[[-3,-10.5],[-2.96,-8],[-2.92,-2.5],[-2.85,-1.5],[-2.79,-2.2],[-2.70,-1.9],[-2.61,-3.2],[-2.56,-1.9],[-2.49,-1.2],[-2.43,-0.5],[-2.3,0],[-0.98,0],[-0.93,-1.5],[-0.88,0],[-0.6,0],[-0.53,-0.2],[-0.4,-0.5],[-0.31,-1.5],[-0.27,-2.7],[-0.19,-1.5],[-0.09,-0.9],[0,-0.7],[0.09,-1.0],[0.18,-0.9],[0.27,-1.0],[0.35,-0.9],[0.49,-0.5],[0.62,-1.2],[0.69,-0.3],[0.75,0],[1.13,0],[1.17,-0.5],[1.24,-1.9],[1.33,-3.9],[1.41,-5.6],[1.49,-4.3],[1.55,-2.6],[1.59,-3.2],[1.68,-1.5],[1.77,-0.5],[1.84,0],[3.5,0],[3.8,-0.2],[4.1,-0.4],[4.4,-0.6],[4.7,-0.5],[5,-0.6]];
const J_cyan=[[-3,0.5],[-2.83,2.9],[-2.7,3.8],[-2.58,6.6],[-2.51,9.0],[-2.45,8.6],[-2.38,0.2],[-2.3,0],[-1.77,0],[-1.71,4.9],[-1.63,9.6],[-1.56,9.9],[-1.49,7.0],[-1.43,9.9],[-1.39,10.5]];

const panelLetters=['(a)','(b)','(c)','(d)','(e)','(f)','(g)','(h)','(i)','(j)'];
const seriesNames=['Fe','Cl'];
const tickValues=[-3,-2.5,-2,-1.5,-1,-0.5,0,0.5,1,1.5,2,2.5,3,3.5,4,4.5,5];
const labelValues=[-3,-2,-1,0,1,2,3,4,5];
const labelTexts=['-3','-2','-1','0','1','2','3','4','5'];

// ---- drawing ----
const FE='#b77300', CL='#33ff00', CYAN='#22c8d2';
const panels=[
 [A_feUp,A_feDn,A_clUp,A_clDn,null],[B_feUp,B_feDn,B_clUp,B_clDn,null],
 [C_feUp,C_feDn,C_clUp,C_clDn,null],[D_feUp,D_feDn,D_clUp,D_clDn,null],
 [E_feUp,E_feDn,E_clUp,E_clDn,null],[F_feUp,F_feDn,F_clUp,F_clDn,null],
 [G_feUp,G_feDn,G_clUp,G_clDn,null],[H_feUp,H_feDn,H_clUp,H_clDn,H_cyan],
 [I_feUp,I_feDn,I_clUp,I_clDn,null],[J_feUp,J_feDn,J_clUp,J_clDn,J_cyan]];
const W=678,H=1066;
const px=v=>v/W, py=v=>1-v/H;
const colDom=[[53.5,354.5],[359.5,661.5]];
const rowDom=[[5.7,202.3],[208.3,404],[411,606.7],[613.3,809.3],[815.7,1012.3]];
const FONT='Liberation Serif';

const traces=[]; const layout={width:W,height:H,margin:{l:0,r:0,t:0,b:0},paper_bgcolor:'#fff',plot_bgcolor:'#fff',
  font:{family:FONT,color:'#000'},showlegend:false,annotations:[],shapes:[]};
panels.forEach((p,k)=>{
  const n=k===0?'':String(k+1);
  const col=k%2,row=Math.floor(k/2);
  const mk=(arr,color,name,fill)=>({x:arr.map(d=>d[0]),y:arr.map(d=>d[1]),type:'scatter',mode:'lines',
     fill:fill?'tozeroy':'none',fillcolor:color,line:{color:color,width:fill?0.6:1.2},name:name,
     xaxis:'x'+n,yaxis:'y'+n,hoverinfo:'skip',showlegend:false});
  traces.push(mk(p[0],FE,seriesNames[0],true));
  traces.push(mk(p[1],FE,seriesNames[0],true));
  traces.push(mk(p[2],CL,seriesNames[1],true));
  traces.push(mk(p[3],CL,seriesNames[1],true));
  if(p[4]) traces.push(mk(p[4],CYAN,'total',false));
  const bottom=row===4;
  layout['xaxis'+n]={domain:[px(colDom[col][0]),px(colDom[col][1])],anchor:'y'+n,range:[-3,5],
    showline:true,linewidth:2,linecolor:'#000',mirror:'ticks',ticks:'inside',ticklen:3,tickwidth:1.2,tickcolor:'#000',
    tickvals:tickValues,showticklabels:false,showgrid:false,zeroline:false,fixedrange:true};
  layout['yaxis'+n]={domain:[py(rowDom[row][1]),py(rowDom[row][0])],anchor:'x'+n,range:[-10,10],
    showline:true,linewidth:2,linecolor:'#000',mirror:'ticks',ticks:'inside',ticklen:4,tickwidth:1.2,tickcolor:'#000',
    tickvals:[0],showticklabels:false,showgrid:false,zeroline:false,fixedrange:true};
  layout.annotations.push({text:panelLetters[k],xref:'paper',yref:'paper',x:px(colDom[col][0]+0.5),y:py(rowDom[row][0]+0.5),
    xanchor:'left',yanchor:'top',showarrow:false,font:{size:23,family:FONT,color:'#000'},bgcolor:'#fff',
    bordercolor:'#000',borderwidth:1.5,borderpad:4});
  if(bottom){
    // energy tick labels, placed on the axis scale; the end labels sit just inside the frame as in the original
    labelValues.forEach((v,i)=>{
      let sh=0; if(v===5) sh=col===0?-8:-6; if(v===-3&&col===0) sh=2;
      layout.annotations.push({text:labelTexts[i],xref:'x'+n,yref:'paper',x:v,y:py(1026.5),xshift:sh,
        xanchor:'center',yanchor:'middle',showarrow:false,font:{size:19,family:FONT,color:'#000'}});
    });
  }
});
const A=(text,x,y,size,xanchor)=>layout.annotations.push({text:text,xref:'paper',yref:'paper',x:px(x),y:py(y),
  xanchor:xanchor||'center',yanchor:'middle',showarrow:false,font:{size:size,family:FONT,color:'#000'}});
// panel titles
A('Bare',204.7,31,25);
A('V',503,25,30); A('Cl',515,39.5,18,'left');
A('V',195,228,30); A('2Cl',206.7,242.5,18,'left');
A('V',499,228,30); A('3Cl',511.7,242.7,18,'left');
A('V',200,431.7,30); A('Fe',210,446,18,'left');
A('Cl-antisite',508.5,429.5,25);
A('Fe-antisite',205,630.5,25);
A('T',496,631.7,30); A('Cl-up',503,646,18,'left');
A('T',179,836,30); A('Cl-down',188,849,18,'left');
A('T',502.5,836,30); A('Fe',511.7,849,18,'left');
A('metallic',532.5,671,21);
A('metallic',531.7,880,21);
// axis titles
A('Energy (eV)',214,1052,24);
A('Energy (eV)',514,1051,24);
layout.annotations.push({text:'PARTIAL DENSITY OF STATES (PDOS)',xref:'paper',yref:'paper',x:px(26),y:py(506.5),
  xanchor:'center',yanchor:'middle',textangle:-90,showarrow:false,font:{size:25,family:FONT,color:'#000'}});
// legend (panel a)
layout.shapes.push({type:'rect',xref:'paper',yref:'paper',x0:px(260.7),x1:px(298.3),y0:py(144),y1:py(131.7),fillcolor:FE,line:{width:0}});
layout.shapes.push({type:'rect',xref:'paper',yref:'paper',x0:px(260.7),x1:px(298.3),y0:py(171.7),y1:py(159.3),fillcolor:CL,line:{width:0}});
A(seriesNames[0],306,138,24,'left');
A(seriesNames[1],306,165.5,24,'left');
// magenta dotted arrows
const MAG='#ff22cc';
[[[476.7,686],[478.5,676],[488,673.5],[494,673]],[[475,895],[477,886],[487,883],[493,882]]].forEach(a=>{
  const [s,c,e,t]=a;
  layout.shapes.push({type:'path',xref:'paper',yref:'paper',path:`M ${px(s[0])},${py(s[1])} Q ${px(c[0])},${py(c[1])} ${px(e[0])},${py(e[1])}`,
    line:{color:MAG,width:1.5,dash:'dot'}});
  layout.shapes.push({type:'path',xref:'paper',yref:'paper',path:`M ${px(t[0]-6)},${py(t[1]-3.5)} L ${px(t[0])},${py(t[1])} L ${px(t[0]-6)},${py(t[1]+3.5)} Z`,
    fillcolor:MAG,line:{color:MAG,width:0.5}});
});
Plotly.newPlot('chart',traces,layout,{staticPlot:true,displayModeBar:false});
</script></body></html>
